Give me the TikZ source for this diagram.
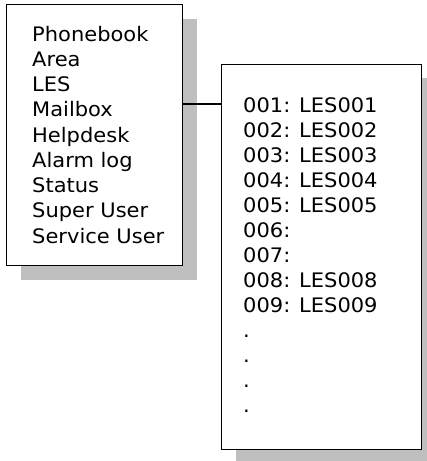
\documentclass[tikz,border=0pt]{standalone}
\usepackage{fontspec}
\setmainfont[FakeStretch=1.05]{DejaVu Sans}
\begin{document}
\begin{tikzpicture}[x=1pt,y=-1pt,
  box/.style={draw=black,line width=1.2pt,fill=white,inner sep=0pt,anchor=north west},
  shade/.style={fill=black!25,draw=none},
  txt/.style={anchor=base west,inner sep=0pt,font=\fontsize{20}{22}\selectfont}]
\useasboundingbox (0,0) rectangle (427,461);
% shadows
\fill[shade] (21,19) rectangle (197,280);
\fill[shade] (236,78) rectangle (427,461);
% boxes
\node[box,minimum width=176pt,minimum height=261pt] (lbox) at (6,4) {};
\node[box,minimum width=200pt,minimum height=385pt] (rbox) at (221,64) {};
% connector
\coordinate (lc) at (182,104);
\draw[line width=1.2pt] (lc) -- (lc -| rbox.west);
% left texts
\foreach \t [count=\i] in {Phonebook,Area,LES,Mailbox,Helpdesk,Alarm log,Status,Super User,Service User}
  \node[txt] (l\i) at (32,{41+25.25*(\i-1)}) {\t};
% right texts
\foreach \t [count=\i] in {001: LES001,002: LES002,003: LES003,004: LES004,005: LES005,006:,007:,008: LES008,009: LES009,.,.,.,.}
  \node[txt] (r\i) at (243,{112.3+25*(\i-1)}) {\t};
\end{tikzpicture}
\end{document}
